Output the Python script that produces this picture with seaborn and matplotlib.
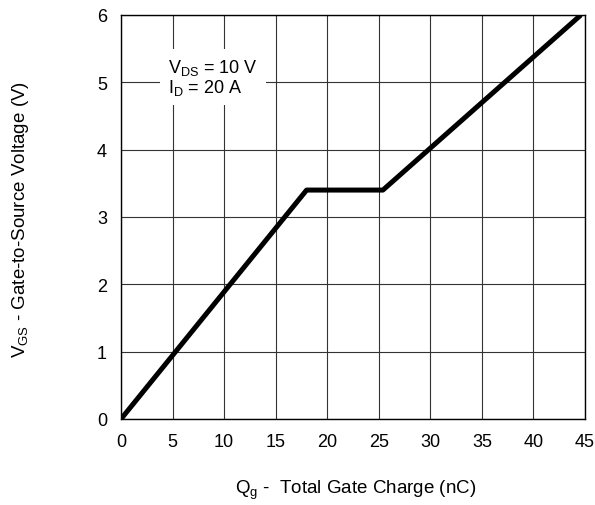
import matplotlib
matplotlib.use("Agg")
import matplotlib.pyplot as plt
import seaborn as sns
import pandas as pd

# Gate charge curve breakpoints
charge_nc = [0.0, 18.0, 25.4, 44.6]
vgs_volts = [0.0, 3.4, 3.4, 6.0]

x_ticks = [0, 5, 10, 15, 20, 25, 30, 35, 40, 45]
y_ticks = [0, 1, 2, 3, 4, 5, 6]

conditions = [r"$\mathregular{V_{DS}}$ = 10 V", r"$\mathregular{I_{D}}$ = 20 A"]

sns.set_theme(style="white")
plt.rcParams["font.family"] = ["Liberation Sans", "DejaVu Sans"]
plt.rcParams["mathtext.fontset"] = "custom"
plt.rcParams["mathtext.rm"] = "Liberation Sans"
plt.rcParams["mathtext.it"] = "Liberation Sans:italic"

FS = 13
LABEL_FS = 13.5

df = pd.DataFrame({"Qg": charge_nc, "VGS": vgs_volts})

fig = plt.figure(figsize=(5.95, 5.06), dpi=100)
ax = fig.add_axes([121 / 595, 1 - 420 / 506, (585 - 121) / 595, (420 - 16) / 506])

sns.lineplot(data=df, x="Qg", y="VGS", ax=ax, color="black", linewidth=3.6,
             solid_capstyle="butt", sort=False, zorder=3)

ax.set_xlim(0, 45)
ax.set_ylim(0, 6)
ax.set_xticks(x_ticks)
ax.set_yticks(y_ticks)
ax.grid(True, color="#333333", linewidth=0.8)
for s in ax.spines.values():
    s.set_color("black")
    s.set_linewidth(1.0)
ax.tick_params(axis="both", length=0, labelsize=FS, colors="black")
ax.tick_params(axis="x", pad=10)
ax.tick_params(axis="y", pad=10)

ax.text(4.6, 5.08, "\n".join(conditions), fontsize=FS, color="black",
        va="center", ha="left", linespacing=1.0, zorder=4,
        bbox=dict(facecolor="white", edgecolor="none", pad=6))

ax.set_xlabel("")
ax.set_ylabel("")
fig.text(356 / 595, 1 - 490 / 506, r"$\mathregular{Q_g}$ -  Total Gate Charge (nC)",
         fontsize=LABEL_FS, color="black", ha="center", va="center")
fig.text(21 / 595, 1 - 220 / 506, r"$\mathregular{V_{GS}}$ - Gate-to-Source Voltage (V)",
         fontsize=LABEL_FS, color="black", ha="center", va="center", rotation=90)

fig.savefig("out.png", dpi=100)
